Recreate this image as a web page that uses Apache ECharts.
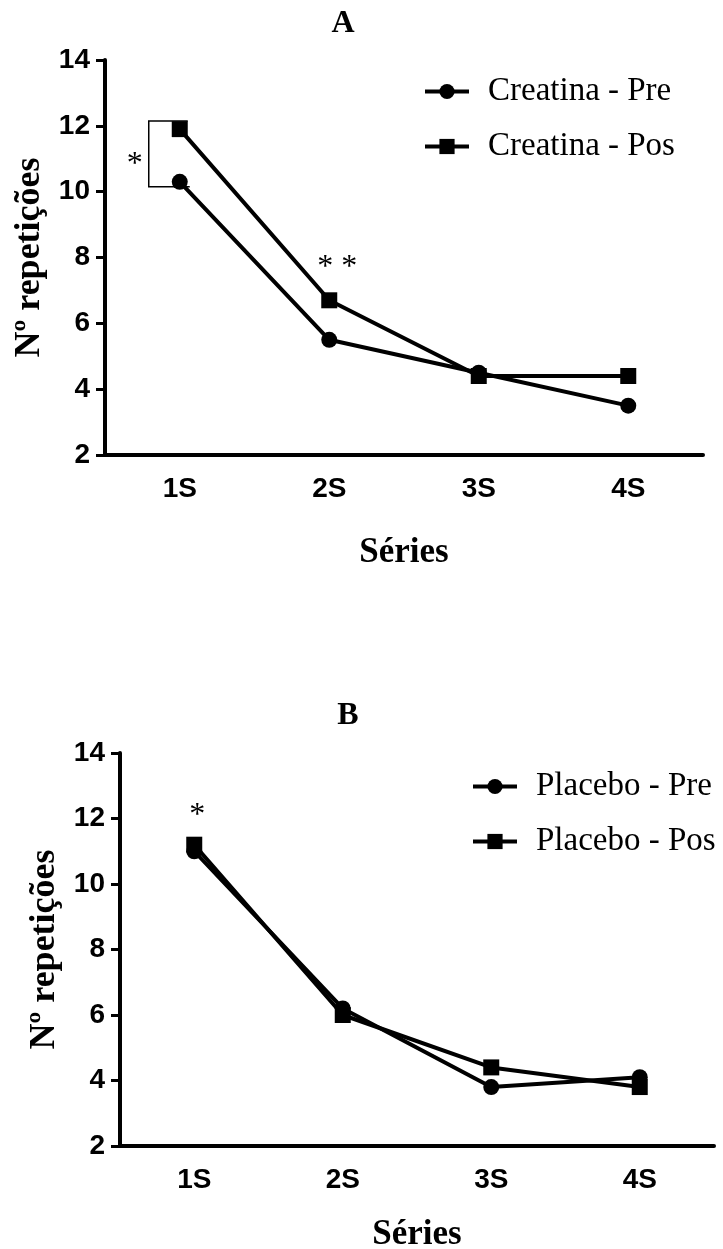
<!DOCTYPE html>
<html>
<head>
<meta charset="utf-8">
<script src="https://cdn.jsdelivr.net/npm/echarts@6/dist/echarts.min.js"></script>
<style>
html,body{margin:0;padding:0;background:#fff;}
#c{width:723px;height:1249px;}
</style>
</head>
<body>
<div id="c"></div>
<script>
// ---- data ----
const categories = ['1S', '2S', '3S', '4S'];
const yMin = 2, yMax = 14, yStep = 2;
const creatinaPre = [10.3, 5.5, 4.5, 3.5];
const creatinaPos = [11.9, 6.7, 4.4, 4.4];
const placeboPre = [11.0, 6.2, 3.8, 4.1];
const placeboPos = [11.2, 6.0, 4.4, 3.8];
const panelTitles = ['A', 'B'];
const seriesNames = ['Creatina - Pre', 'Creatina - Pos', 'Placebo - Pre', 'Placebo - Pos'];
const xName = 'Séries';
const yName = 'Nº repetições';
// significance annotations
const bracketA = { cat: '1S', top: 12.15, bottom: 10.15 };
const starA = { cat: '1S', value: 10.82, text: '*' };
const star2A = { cat: '2S', value: 7.7, text: '* *' };
const starB = { cat: '1S', value: 12.1, text: '*' };

const serif = '"Liberation Serif", "Times New Roman", serif';
const sans = '"Liberation Sans", Arial, sans-serif';

const chart = echarts.init(document.getElementById('c'), null, { renderer: 'canvas' });

function xAxisCfg(gi, gap) {
  return {
    type: 'category', gridIndex: gi, data: categories, boundaryGap: true,
    axisLine: { lineStyle: { color: '#000', width: 4 } },
    axisTick: { alignWithLabel: true, length: 10, lineStyle: { color: '#000', width: 3 } },
    axisLabel: { color: '#000', fontFamily: sans, fontWeight: 'bold', fontSize: 28, margin: 20 },
    name: xName, nameLocation: 'middle', nameGap: gap,
    nameTextStyle: { color: '#000', fontFamily: serif, fontWeight: 'bold', fontSize: 35 }
  };
}
function yAxisCfg(gi, gap) {
  return {
    type: 'value', gridIndex: gi, min: yMin, max: yMax, interval: yStep,
    axisLine: { show: true, lineStyle: { color: '#000', width: 4 } },
    axisTick: { show: true, length: 9, lineStyle: { color: '#000', width: 3 } },
    splitLine: { show: false },
    axisLabel: { color: '#000', fontFamily: sans, fontWeight: 'bold', fontSize: 28, margin: 15 },
    name: yName, nameLocation: 'middle', nameGap: gap,
    nameTextStyle: { color: '#000', fontFamily: serif, fontWeight: 'bold', fontSize: 36 }
  };
}
function lineSeries(name, data, gi, symbol) {
  return {
    type: 'line', name: name, data: data, xAxisIndex: gi, yAxisIndex: gi,
    symbol: symbol, symbolSize: 16, showSymbol: true,
    lineStyle: { color: '#000', width: 4 },
    itemStyle: { color: '#000' },
    emphasis: { disabled: true }, animation: false
  };
}
const legendText = { color: '#000', fontFamily: serif, fontSize: 33, padding: [0, 0, 0, 14] };
const legendCommon = {
  orient: 'vertical', itemWidth: 44, itemHeight: 19, itemGap: 22,
  textStyle: legendText, selectedMode: false,
  lineStyle: { width: 4 }, itemStyle: { borderWidth: 0 }
};

chart.setOption({
  animation: false,
  backgroundColor: '#fff',
  title: [
    { text: panelTitles[0], left: 338, top: 3, textAlign: 'center',
      textStyle: { color: '#000', fontFamily: serif, fontWeight: 'bold', fontSize: 32 } },
    { text: panelTitles[1], left: 343, top: 695, textAlign: 'center',
      textStyle: { color: '#000', fontFamily: serif, fontWeight: 'bold', fontSize: 32 } }
  ],
  legend: [
    Object.assign({ data: [seriesNames[0], seriesNames[1]], left: 418, top: 70 }, legendCommon),
    Object.assign({ data: [seriesNames[2], seriesNames[3]], left: 466, top: 765 }, legendCommon)
  ],
  grid: [
    { left: 105, top: 60, width: 598, height: 395, containLabel: false, outerBoundsMode: 'none' },
    { left: 120, top: 753, width: 594, height: 393, containLabel: false, outerBoundsMode: 'none' }
  ],
  xAxis: [xAxisCfg(0, 80), xAxisCfg(1, 71)],
  yAxis: [yAxisCfg(0, 56), yAxisCfg(1, 50)],
  series: [
    lineSeries(seriesNames[0], creatinaPre, 0, 'circle'),
    lineSeries(seriesNames[1], creatinaPos, 0, 'rect'),
    lineSeries(seriesNames[2], placeboPre, 1, 'circle'),
    lineSeries(seriesNames[3], placeboPos, 1, 'rect')
  ]
});

function px(gi, cat, v) {
  return chart.convertToPixel({ xAxisIndex: gi, yAxisIndex: gi }, [cat, v]);
}
const bt = px(0, bracketA.cat, bracketA.top);
const bb = px(0, bracketA.cat, bracketA.bottom);
const bx = bt[0] - 31;
const sA = px(0, starA.cat, starA.value);
const s2A = px(0, star2A.cat, star2A.value);
const sB = px(1, starB.cat, starB.value);
const starStyle = { fill: '#000', font: '32px ' + serif, textAlign: 'center', textVerticalAlign: 'middle' };

chart.setOption({
  graphic: [
    { type: 'polyline', z: 1, shape: { points: [[bt[0] + 8, bt[1]], [bx, bt[1]], [bx, bb[1]], [bb[0] + 10, bb[1]]] },
      style: { stroke: '#000', lineWidth: 1.5, fill: null } },
    { type: 'text', x: sA[0] - 45, y: sA[1], style: Object.assign({ text: starA.text }, starStyle) },
    { type: 'text', x: s2A[0] + 8, y: s2A[1], style: Object.assign({ text: star2A.text }, starStyle) },
    { type: 'text', x: sB[0] + 3, y: sB[1], style: Object.assign({ text: starB.text }, starStyle) }
  ]
});
</script>
</body>
</html>
